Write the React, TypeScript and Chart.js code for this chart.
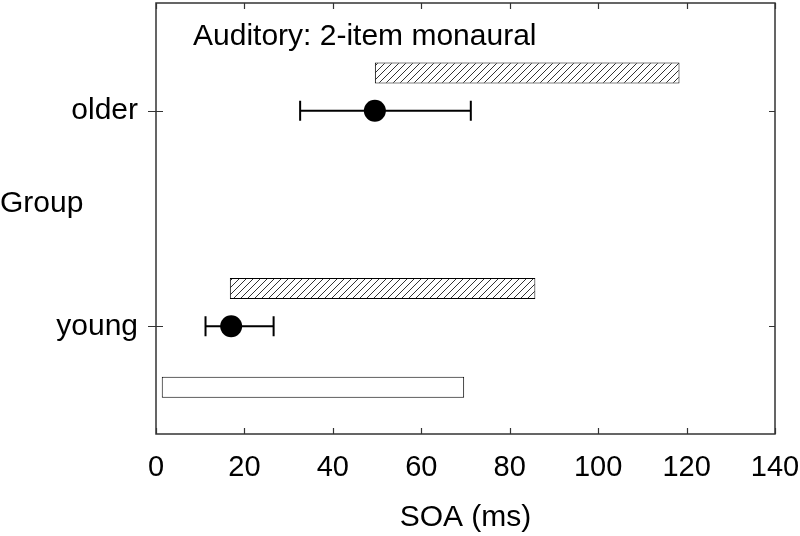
import React, { useEffect, useRef } from 'react';
import { Chart, registerables } from 'chart.js';

Chart.register(...registerables);

// ---- data ----
const groupLabels = ['young', 'older'];
const groupPositions = [1, 2];
const hatchStart = [16.7, 49.5];
const hatchEnd = [85.8, 118.4];
const meanSOA = [17.0, 49.5];
const errLow = [11.2, 32.6];
const errHigh = [26.6, 71.2];
const openStart = [1.3];
const openEnd = [69.7];
const xTickValues = [0, 20, 40, 60, 80, 100, 120, 140];
const chartTitle = 'Auditory: 2-item monaural';
const xTitle = 'SOA (ms)';
const yTitle = 'Group';

// layout constants (not data)
const HATCH_OFFSET = 0.175;
const OPEN_OFFSET = -0.283;
const FONT = "'Liberation Sans', Arial, sans-serif";
const FS = 30;
const TICK_FS = 29;

function makeHatch(ctx: CanvasRenderingContext2D) {
  const s = 7;
  const c = document.createElement('canvas');
  c.width = s;
  c.height = s;
  const g = c.getContext('2d')!;
  g.fillStyle = '#fff';
  g.fillRect(0, 0, s, s);
  g.strokeStyle = '#333';
  g.lineWidth = 1;
  g.beginPath();
  g.moveTo(0, s);
  g.lineTo(s, 0);
  g.moveTo(-1, 1);
  g.lineTo(1, -1);
  g.moveTo(s - 1, s + 1);
  g.lineTo(s + 1, s - 1);
  g.stroke();
  return ctx.createPattern(c, 'repeat');
}

const zeroPad = (s: any) => {
  s.paddingTop = 0;
  s.paddingBottom = 0;
  s.paddingLeft = 0;
  s.paddingRight = 0;
};

const decorPlugin = {
  id: 'decor',
  beforeDatasetsDraw(chart: any) {
    const { ctx, scales } = chart;
    const x = scales.x, y = scales.y;
    ctx.save();
    ctx.strokeStyle = '#000';
    ctx.lineWidth = 2;
    groupPositions.forEach((p, i) => {
      const py = y.getPixelForValue(p);
      const x1 = x.getPixelForValue(errLow[i]);
      const x2 = x.getPixelForValue(errHigh[i]);
      ctx.beginPath();
      ctx.moveTo(x1, py);
      ctx.lineTo(x2, py);
      ctx.moveTo(x1, py - 10);
      ctx.lineTo(x1, py + 10);
      ctx.moveTo(x2, py - 10);
      ctx.lineTo(x2, py + 10);
      ctx.stroke();
    });
    ctx.restore();
  },
  afterDraw(chart: any) {
    const { ctx, chartArea, scales } = chart;
    const x = scales.x, y = scales.y;
    const { left, right, top, bottom } = chartArea;
    ctx.save();
    ctx.strokeStyle = '#333';
    ctx.lineWidth = 1.5;
    ctx.strokeRect(left, top, right - left, bottom - top);
    ctx.lineWidth = 1.2;
    ctx.beginPath();
    xTickValues.forEach((v) => {
      const px = Math.round(x.getPixelForValue(v)) + 0.5;
      ctx.moveTo(px, bottom);
      ctx.lineTo(px, bottom - 6);
      ctx.moveTo(px, top);
      ctx.lineTo(px, top + 6);
    });
    groupPositions.forEach((p) => {
      const py = Math.round(y.getPixelForValue(p)) + 0.5;
      ctx.moveTo(left - 8, py);
      ctx.lineTo(left + 7, py);
      ctx.moveTo(right, py);
      ctx.lineTo(right - 6, py);
    });
    ctx.stroke();

    ctx.fillStyle = '#000';
    ctx.font = `${FS}px ${FONT}`;
    ctx.textBaseline = 'alphabetic';
    ctx.textAlign = 'left';
    ctx.fillText(chartTitle, left + 37, 45);
    ctx.fillText(yTitle, 0, 212);
    ctx.restore();
  },
};

export default function App() {
  const ref = useRef<HTMLCanvasElement | null>(null);

  useEffect(() => {
    document.body.style.margin = '0';
    const canvas = ref.current!;
    const ctx = canvas.getContext('2d')!;
    const hatch = makeHatch(ctx);

    const chart = new Chart(canvas, {
      type: 'scatter',
      data: {
        datasets: [
          {
            type: 'bar',
            label: 'hatched',
            data: groupPositions.map((p, i) => ({ x: [hatchStart[i], hatchEnd[i]], y: p + HATCH_OFFSET })),
            backgroundColor: hatch as any,
            borderColor: '#000',
            borderWidth: 1,
            borderSkipped: false,
            indexAxis: 'y',
            grouped: false,
            maxBarThickness: 21,
          } as any,
          {
            type: 'bar',
            label: 'open',
            data: openStart.map((s, i) => ({ x: [s, openEnd[i]], y: groupPositions[0] + OPEN_OFFSET })),
            backgroundColor: '#fff',
            borderColor: '#000',
            borderWidth: 1,
            borderSkipped: false,
            indexAxis: 'y',
            grouped: false,
            maxBarThickness: 21,
          } as any,
          {
            type: 'scatter',
            label: 'mean',
            data: groupPositions.map((p, i) => ({ x: meanSOA[i], y: p })),
            pointRadius: 11,
            pointHoverRadius: 11,
            backgroundColor: '#000',
            borderColor: '#000',
            borderWidth: 0,
          } as any,
        ],
      },
      options: {
        responsive: false,
        animation: false,
        devicePixelRatio: 1,
        layout: { autoPadding: false, padding: { top: 3, right: 25, left: 0, bottom: 0 } },
        plugins: { legend: { display: false }, tooltip: { enabled: false }, title: { display: false } },
        scales: {
          x: {
            type: 'linear',
            min: 0,
            max: 140,
            offset: false,
            afterBuildTicks: (s: any) => {
              s.ticks = xTickValues.map((v) => ({ value: v }));
            },
            afterFit: (s: any) => {
              s.height = 102;
              zeroPad(s);
            },
            grid: { display: false, drawTicks: false, offset: false },
            border: { display: false },
            ticks: { color: '#000', font: { family: FONT, size: TICK_FS }, padding: 17, maxRotation: 0, autoSkip: false },
            title: {
              display: true,
              text: xTitle,
              color: '#000',
              font: { family: FONT, size: FS },
              padding: { top: 0, bottom: 0 },
            },
          },
          y: {
            type: 'linear',
            min: 0.5,
            max: 2.5,
            offset: false,
            afterBuildTicks: (s: any) => {
              s.ticks = groupPositions.map((v) => ({ value: v }));
            },
            afterFit: (s: any) => {
              s.width = 156;
              zeroPad(s);
            },
            grid: { display: false, drawTicks: false, offset: false },
            border: { display: false },
            ticks: {
              color: '#000',
              font: { family: FONT, size: FS },
              padding: 18,
              autoSkip: false,
              callback: (v: any) => {
                const i = groupPositions.indexOf(Number(v));
                return i >= 0 ? groupLabels[i] : '';
              },
            },
          },
        },
      } as any,
      plugins: [decorPlugin],
    });
    return () => chart.destroy();
  }, []);

  return (
    <div style={{ width: 800, height: 536 }}>
      <canvas ref={ref} width={800} height={536} style={{ display: 'block' }} />
    </div>
  );
}
